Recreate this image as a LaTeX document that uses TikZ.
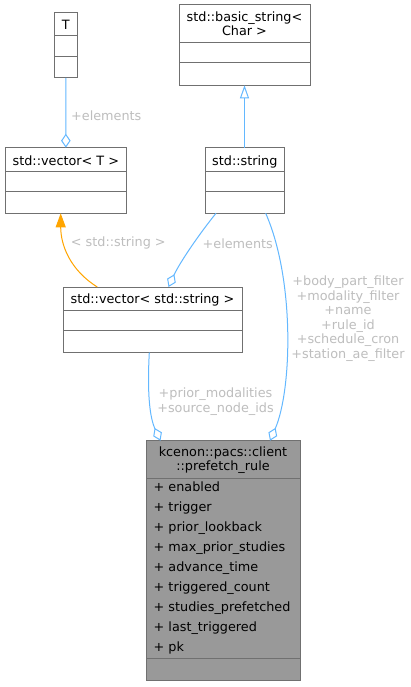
\documentclass[tikz,border=0pt]{standalone}
\usepackage{fontspec}
\setmainfont{DejaVu Sans}
\usetikzlibrary{arrows.meta}
\definecolor{edgeblue}{HTML}{63B8FF}
\definecolor{edgeorange}{HTML}{FFA500}
\definecolor{boxline}{HTML}{707070}
\definecolor{lbl}{HTML}{BEBEBE}
\definecolor{hdr}{HTML}{999999}
\begin{document}
\begin{tikzpicture}[x=1pt,y=-1pt,
  font=\fontsize{12.8}{14.5}\selectfont,
  box/.style={draw=boxline, line width=1pt, fill=white, rectangle, inner sep=0pt, outer sep=0pt},
  divider/.style={draw=boxline, line width=1pt},
  ttl/.style={inner sep=0pt, text=black, anchor=base},
  mttl/.style={inner sep=0pt, text=black, align=center},
  attr/.style={inner sep=0pt, text=black, anchor=base west},
  lab/.style={inner sep=0pt, text=lbl, align=center},
  blueedge/.style={draw=edgeblue, line width=1pt},
  agg/.style={blueedge, -{Diamond[open, length=14pt, width=9.5pt]}},
  inh/.style={blueedge, -{Triangle[open, length=13pt, width=9pt, fill=white]}},
  tmpl/.style={draw=edgeorange, line width=1pt, -{Triangle[length=14pt, width=10pt, fill=edgeorange]}}
]
\fill[white] (0,0) rectangle (410,687);
\useasboundingbox (0,0) rectangle (410,687);

% T
\node[box, minimum width=23pt, minimum height=65.3pt] (T) at (65.8,45.35) {};
\draw[divider] (T.west |- 0,36) -- (T.east |- 0,36);
\draw[divider] (T.west |- 0,56.7) -- (T.east |- 0,56.7);
\node[ttl] (Tt) at (65.8,29.3) {T};

% std::basic_string< Char >
\node[box, minimum width=131pt, minimum height=80.3pt] (bstr) at (244.5,45.15) {};
\draw[divider] (bstr.west |- 0,42.7) -- (bstr.east |- 0,42.7);
\draw[divider] (bstr.west |- 0,62.7) -- (bstr.east |- 0,62.7);
\node[mttl] (bstrt) at (244.5,23.5) {std::basic\_string\textless\\Char \textgreater};

% std::vector< T >
\node[box, minimum width=121.7pt, minimum height=65.6pt] (vecT) at (65.85,180.5) {};
\draw[divider] (vecT.west |- 0,171.7) -- (vecT.east |- 0,171.7);
\draw[divider] (vecT.west |- 0,191.7) -- (vecT.east |- 0,191.7);
\node[ttl] (vecTt) at (65.85,165) {std::vector\textless{} T \textgreater};

% std::string
\node[box, minimum width=79pt, minimum height=65.6pt] (str) at (244.5,180.5) {};
\draw[divider] (str.west |- 0,171.7) -- (str.east |- 0,171.7);
\draw[divider] (str.west |- 0,191.7) -- (str.east |- 0,191.7);
\node[ttl] (strt) at (244.8,165) {std::string};

% std::vector< std::string >
\node[box, minimum width=179pt, minimum height=65.7pt] (vecS) at (152.5,319.85) {};
\draw[divider] (vecS.west |- 0,310.7) -- (vecS.east |- 0,310.7);
\draw[divider] (vecS.west |- 0,330.7) -- (vecS.east |- 0,330.7);
\node[ttl] (vecSt) at (152.5,303.3) {std::vector\textless{} std::string \textgreater};

% kcenon::pacs::client::prefetch_rule
\node[box, fill=hdr, minimum width=154pt, minimum height=240pt] (rule) at (223,560.7) {};
\draw[divider] (rule.west |- 0,478.3) -- (rule.east |- 0,478.3);
\draw[divider] (rule.west |- 0,658.7) -- (rule.east |- 0,658.7);
\node[mttl] (rulet) at (223,460) {kcenon::pacs::client\\::prefetch\_rule};
\node[attr] (a1) at (153.5,491.7) {+ enabled};
\node[attr] (a2) at (153.5,511.7) {+ trigger};
\node[attr] (a3) at (153.5,531.7) {+ prior\_lookback};
\node[attr] (a4) at (153.5,551.7) {+ max\_prior\_studies};
\node[attr] (a5) at (153.5,571.7) {+ advance\_time};
\node[attr] (a6) at (153.5,591.7) {+ triggered\_count};
\node[attr] (a7) at (153.5,611.7) {+ studies\_prefetched};
\node[attr] (a8) at (153.5,631.7) {+ last\_triggered};
\node[attr] (a9) at (153.5,651.7) {+ pk};

% edges
\draw[agg] (T.south) -- (vecT.north);
\node[lab, anchor=west] (l1) at (71,115.7) {+elements};

\draw[inh] (str.north) -- (bstr.south);

\draw[tmpl] ([xshift=-55.2pt]vecS.north) .. controls (70,270) and (60.7,245) .. ([xshift=-5.15pt]vecT.south);
\node[lab] (l2) at (118.3,243.3) {\textless{} std::string \textgreater};

\draw[agg] ([xshift=-28.5pt]str.south) .. controls (200,233) and (180,262) .. ([xshift=16pt]vecS.north);
\node[lab] (l3) at (237.8,243.3) {+elements};

\draw[agg] ([xshift=21.2pt]str.south) .. controls (295,280) and (292,390) .. ([xshift=47pt]rule.north);
\node[lab] (l4) at (348,318.8) {+body\_part\_filter\\+modality\_filter\\+name\\+rule\_id\\+schedule\_cron\\+station\_ae\_filter};

\draw[agg] ([xshift=-3.2pt]vecS.south) .. controls (147,395) and (150,418) .. ([xshift=-62.5pt]rule.north);
\node[lab] (l5) at (215.5,401.5) {+prior\_modalities\\+source\_node\_ids};
\end{tikzpicture}
\end{document}
